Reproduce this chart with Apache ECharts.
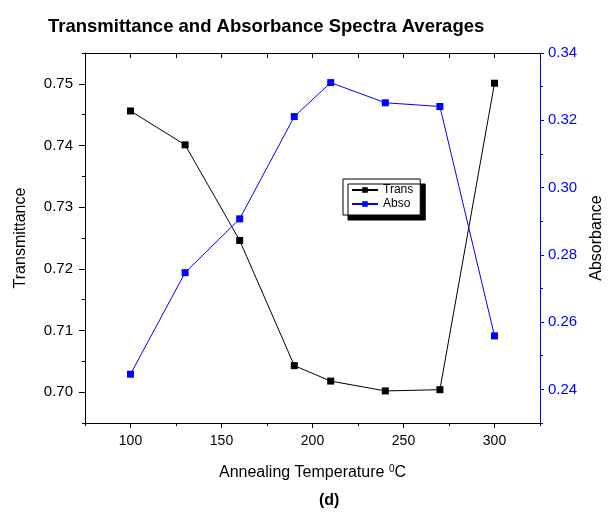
<!DOCTYPE html>
<html>
<head>
<meta charset="utf-8">
<script src="https://cdn.jsdelivr.net/npm/echarts@6/dist/echarts.min.js"></script>
<style>
  html, body { margin: 0; padding: 0; background: #fff; }
  #chart { width: 609px; height: 512px; }
</style>
</head>
<body>
<div id="chart"></div>
<script>
// annealing temperatures (C)
var temps = [100, 130, 160, 190, 210, 240, 270, 300];
// transmittance averages (left axis)
var trans = [0.7456, 0.7401, 0.7246, 0.7043, 0.7018, 0.7002, 0.7004, 0.7501];
// absorbance averages (right axis)
var abso = [0.2445, 0.2747, 0.2907, 0.3211, 0.3312, 0.3252, 0.3241, 0.2559];

// tick positions
var xMajor = [100, 150, 200, 250, 300];
var xMinor = [75, 125, 175, 225, 275, 325];
var xTop = [75, 100, 125, 150, 175, 200, 225, 250, 275, 300, 325];
var tMajor = [0.70, 0.71, 0.72, 0.73, 0.74, 0.75];
var tMinor = [0.695, 0.705, 0.715, 0.725, 0.735, 0.745, 0.755];
var aMajor = [0.24, 0.26, 0.28, 0.30, 0.32, 0.34];
var aMinor = [0.23, 0.25, 0.27, 0.29, 0.31, 0.33];

var FONT = 'Liberation Sans, Arial, sans-serif';
var BLUE = '#0000ff';

function pairs(xs, ys) {
	var out = [];
	for (let i = 0; i < xs.length; i++) {
		out.push([xs[i], ys[i]]);
	}
	return out;
}

// extra axis that only draws (minor) ticks
function tickAxis(pos, min, max, vals, len, color, inside) {
	return {
		type: 'value', position: pos, min: min, max: max,
		axisLine: { show: false },
		axisTick: { show: true, customValues: vals, length: len, inside: !!inside,
			lineStyle: { color: color, width: 1 } },
		axisLabel: { show: false },
		splitLine: { show: false }
	};
}

var myChart = echarts.init(document.getElementById('chart'));

var option = {
	backgroundColor: '#fff',
	animation: false,
	textStyle: { fontFamily: FONT },
	title: {
		text: 'Transmittance and Absorbance Spectra Averages',
		left: 48, top: 17, padding: 0,
		textStyle: { fontFamily: FONT, fontSize: 18.5, fontWeight: 'bold', color: '#000' }
	},
	graphic: [{
		type: 'text', left: 319, top: 493,
		style: { text: '(d)', font: 'bold 16px ' + FONT, fill: '#000' }
	}],
	legend: {
		left: 343, top: 179, orient: 'vertical',
		data: ['Trans', 'Abso'],
		itemWidth: 26, itemHeight: 7, itemGap: 2,
		padding: [5, 7, 5, 8],
		backgroundColor: '#fff',
		borderColor: '#000', borderWidth: 1,
		shadowColor: '#000', shadowBlur: 0, shadowOffsetX: 5, shadowOffsetY: 5,
		textStyle: { fontFamily: FONT, fontSize: 12, color: '#000' }
	},
	grid: { left: 85, right: 69, top: 53, bottom: 89, outerBoundsMode: 'none', containLabel: false },
	xAxis: [
		{
			type: 'value', position: 'bottom', min: 75, max: 325,
			name: 'Annealing Temperature {sup|0}C',
			nameLocation: 'middle', nameGap: 41,
			nameTextStyle: {
				fontFamily: FONT, fontSize: 16, color: '#000',
				rich: { sup: { fontFamily: FONT, fontSize: 10, color: '#000', verticalAlign: 'top', padding: [0, 0, 8, 0] } }
			},
			axisLine: { show: true, onZero: false, lineStyle: { color: '#000', width: 1 } },
			axisTick: { show: true, customValues: xMajor, length: 5, lineStyle: { color: '#000' } },
			axisLabel: { show: true, customValues: xMajor, margin: 11, fontFamily: FONT, fontSize: 14, color: '#000' },
			splitLine: { show: false }
		},
		tickAxis('bottom', 75, 325, xMinor, 3, '#000'),
		{
			type: 'value', position: 'top', min: 75, max: 325,
			axisLine: { show: true, onZero: false, lineStyle: { color: '#000', width: 1 } },
			axisTick: { show: true, customValues: xTop, length: 5, inside: true, lineStyle: { color: '#000' } },
			axisLabel: { show: false },
			splitLine: { show: false }
		}
	],
	yAxis: [
		{
			type: 'value', position: 'left', min: 0.695, max: 0.755,
			name: 'Transmittance', nameLocation: 'middle', nameGap: 56, nameRotate: 90,
			nameTextStyle: { fontFamily: FONT, fontSize: 16, color: '#000' },
			axisLine: { show: true, onZero: false, lineStyle: { color: '#000', width: 1 } },
			axisTick: { show: true, customValues: tMajor, length: 6, lineStyle: { color: '#000' } },
			axisLabel: { show: true, customValues: tMajor, margin: 12, fontFamily: FONT, fontSize: 15, color: '#000',
				formatter: function (v) { return v.toFixed(2); } },
			splitLine: { show: false }
		},
		tickAxis('left', 0.695, 0.755, tMinor, 3, '#000'),
		{
			type: 'value', position: 'right', min: 0.23, max: 0.34,
			name: 'Absorbance', nameLocation: 'middle', nameGap: 49, nameRotate: 90,
			nameTextStyle: { fontFamily: FONT, fontSize: 16, color: '#000' },
			axisLine: { show: true, onZero: false, lineStyle: { color: BLUE, width: 1 } },
			axisTick: { show: true, customValues: aMajor, length: 4, lineStyle: { color: BLUE } },
			axisLabel: { show: true, customValues: aMajor, margin: 8, fontFamily: FONT, fontSize: 15, color: BLUE,
				formatter: function (v) { return v.toFixed(2); } },
			splitLine: { show: false }
		},
		tickAxis('right', 0.23, 0.34, aMinor, 3, BLUE)
	],
	series: [
		{
			name: 'Trans', type: 'line', xAxisIndex: 0, yAxisIndex: 0,
			data: pairs(temps, trans),
			symbol: 'rect', symbolSize: 7, showAllSymbol: true,
			itemStyle: { color: '#000' },
			lineStyle: { color: '#000', width: 1 }
		},
		{
			name: 'Abso', type: 'line', xAxisIndex: 0, yAxisIndex: 2,
			data: pairs(temps, abso),
			symbol: 'rect', symbolSize: 7, showAllSymbol: true,
			itemStyle: { color: BLUE },
			lineStyle: { color: BLUE, width: 1 }
		}
	]
};

myChart.setOption(option);
</script>
</body>
</html>
